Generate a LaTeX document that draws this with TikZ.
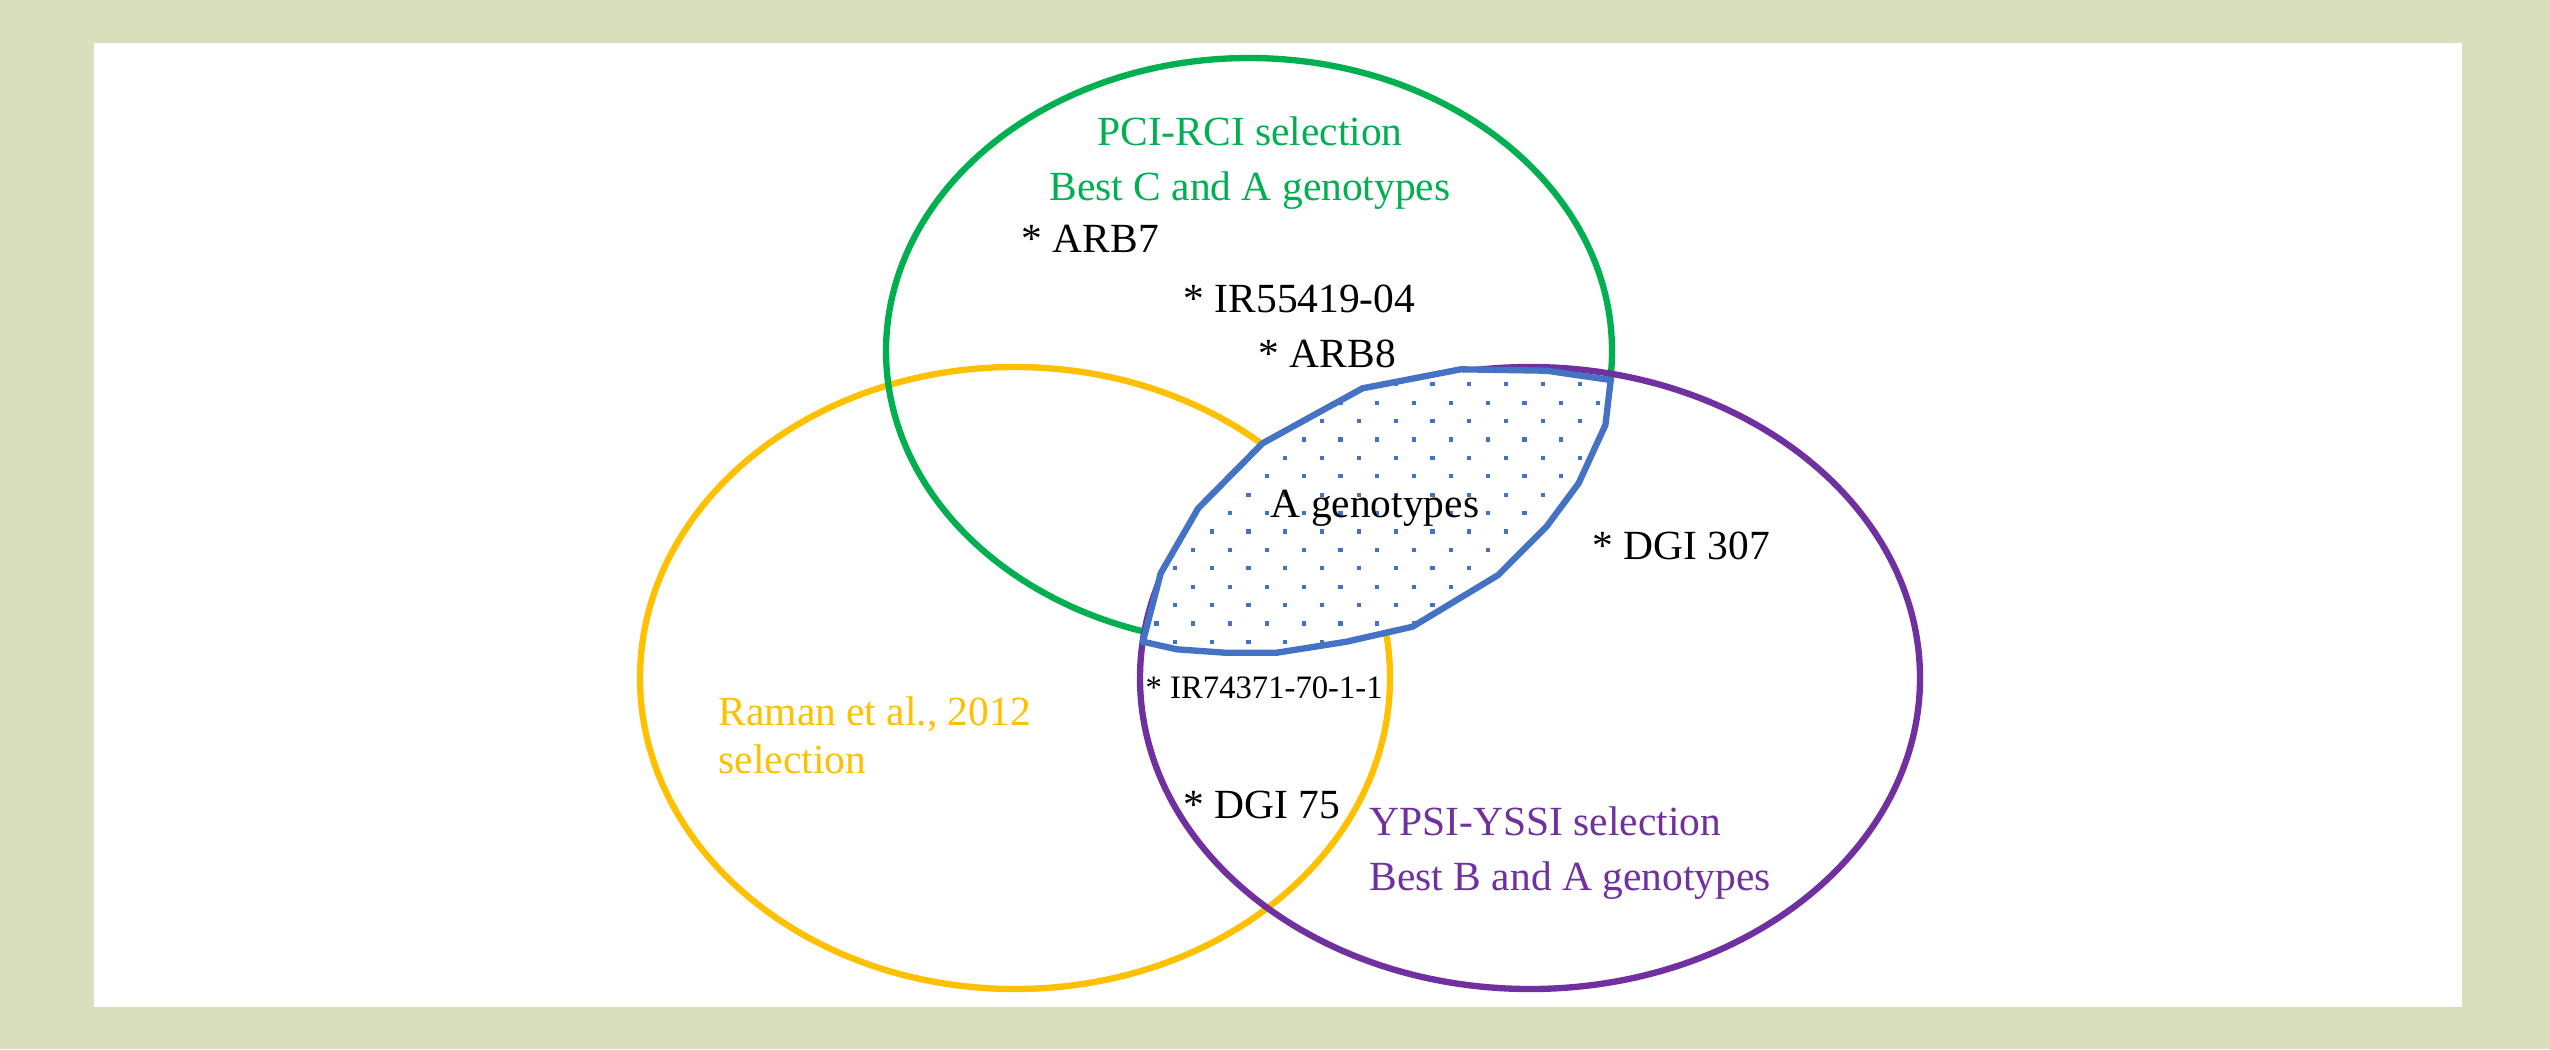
\documentclass[tikz,border=0pt]{standalone}
\usepackage{fontspec}
\setmainfont{Liberation Serif}
\usepackage{xcolor}

\definecolor{pgreen}{HTML}{00B050}
\definecolor{ryellow}{HTML}{FFC000}
\definecolor{ypurple}{HTML}{7030A0}
\definecolor{ablue}{HTML}{4472C4}
\definecolor{bgolive}{HTML}{D9DFBD}

\newcommand{\agenpoly}{(1262.5,443.3) -- (1362.5,388.3) -- (1460.7,369.3) -- (1546.4,370.7) -- (1610.7,380) -- (1605.4,425) -- (1578.6,483.3) -- (1546.4,526.7) -- (1498.2,575) -- (1412.5,626.7) -- (1346.4,641.7) -- (1276.8,652.7) -- (1225,652.7) -- (1176.8,649.3) -- (1142.9,641.7) -- (1160.7,573.3) -- (1198.2,508.3) -- cycle}

\tikzset{
  lbl/.style={inner sep=0pt, anchor=base west, font=\fontsize{11.8}{14}\selectfont},
  lblc/.style={lbl, anchor=base},
  ring/.style={line width=1.8pt}
}

\begin{document}
\begin{tikzpicture}[x=0.1mm, y=-0.1mm]
            \fill[bgolive] (0,0) rectangle (2550,1049);
            \fill[white] (94,43) rectangle (2462,1007);
            \useasboundingbox (0,0) rectangle (2550,1049);
            % the three selections
            \draw[ring, ryellow] (1015,678) ellipse [x radius=375, y radius=311];
            \draw[ring, pgreen] (1249,351) ellipse [x radius=363, y radius=293];
            \draw[ring, ypurple] (1530,678) ellipse [x radius=390, y radius=311];
            % A genotypes area
            \fill[white] \agenpoly;
            \begin{scope}
              \clip \agenpoly;
              \foreach \r in {0,...,16}
                \foreach \c in {-7,...,7}
                  \fill[ablue] ({1377.3+36.8*\c+18.4*mod(\r,2)-2.1},{365.9+18.4*\r-2.1}) rectangle +(4.2,4.2);
            \end{scope}
            \draw[ablue, line width=1.8pt] \agenpoly;
            % labels
            \node[lblc, pgreen] (pcirci) at (1250,145) {PCI-RCI selection};
            \node[lblc, pgreen] (bestc) at (1250,200) {Best C and A genotypes};
            \node[lbl] (arbseven) at (1021,252) {* ARB7};
            \node[lbl] (irfive) at (1183,312) {* IR55419-04};
            \node[lbl] (arbeight) at (1258,367) {* ARB8};
            \node[lbl] (agen) at (1270,517) {A genotypes};
            \node[lbl] (dgithree) at (1592,559) {* DGI 307};
            \node[lbl, font=\fontsize{9.3}{11}\selectfont] (irseven) at (1145,698) {* IR74371-70-1-1};
            \node[lbl, ryellow] (raman) at (718,725) {Raman et al., 2012};
            \node[lbl, ryellow] (ramansel) at (718,773) {selection};
            \node[lbl] (dgiseven) at (1183,818) {* DGI 75};
            \node[lbl, ypurple] (ypsi) at (1369,835) {YPSI-YSSI selection};
            \node[lbl, ypurple] (bestb) at (1369,890) {Best B and A genotypes};
        \end{tikzpicture}
\end{document}
